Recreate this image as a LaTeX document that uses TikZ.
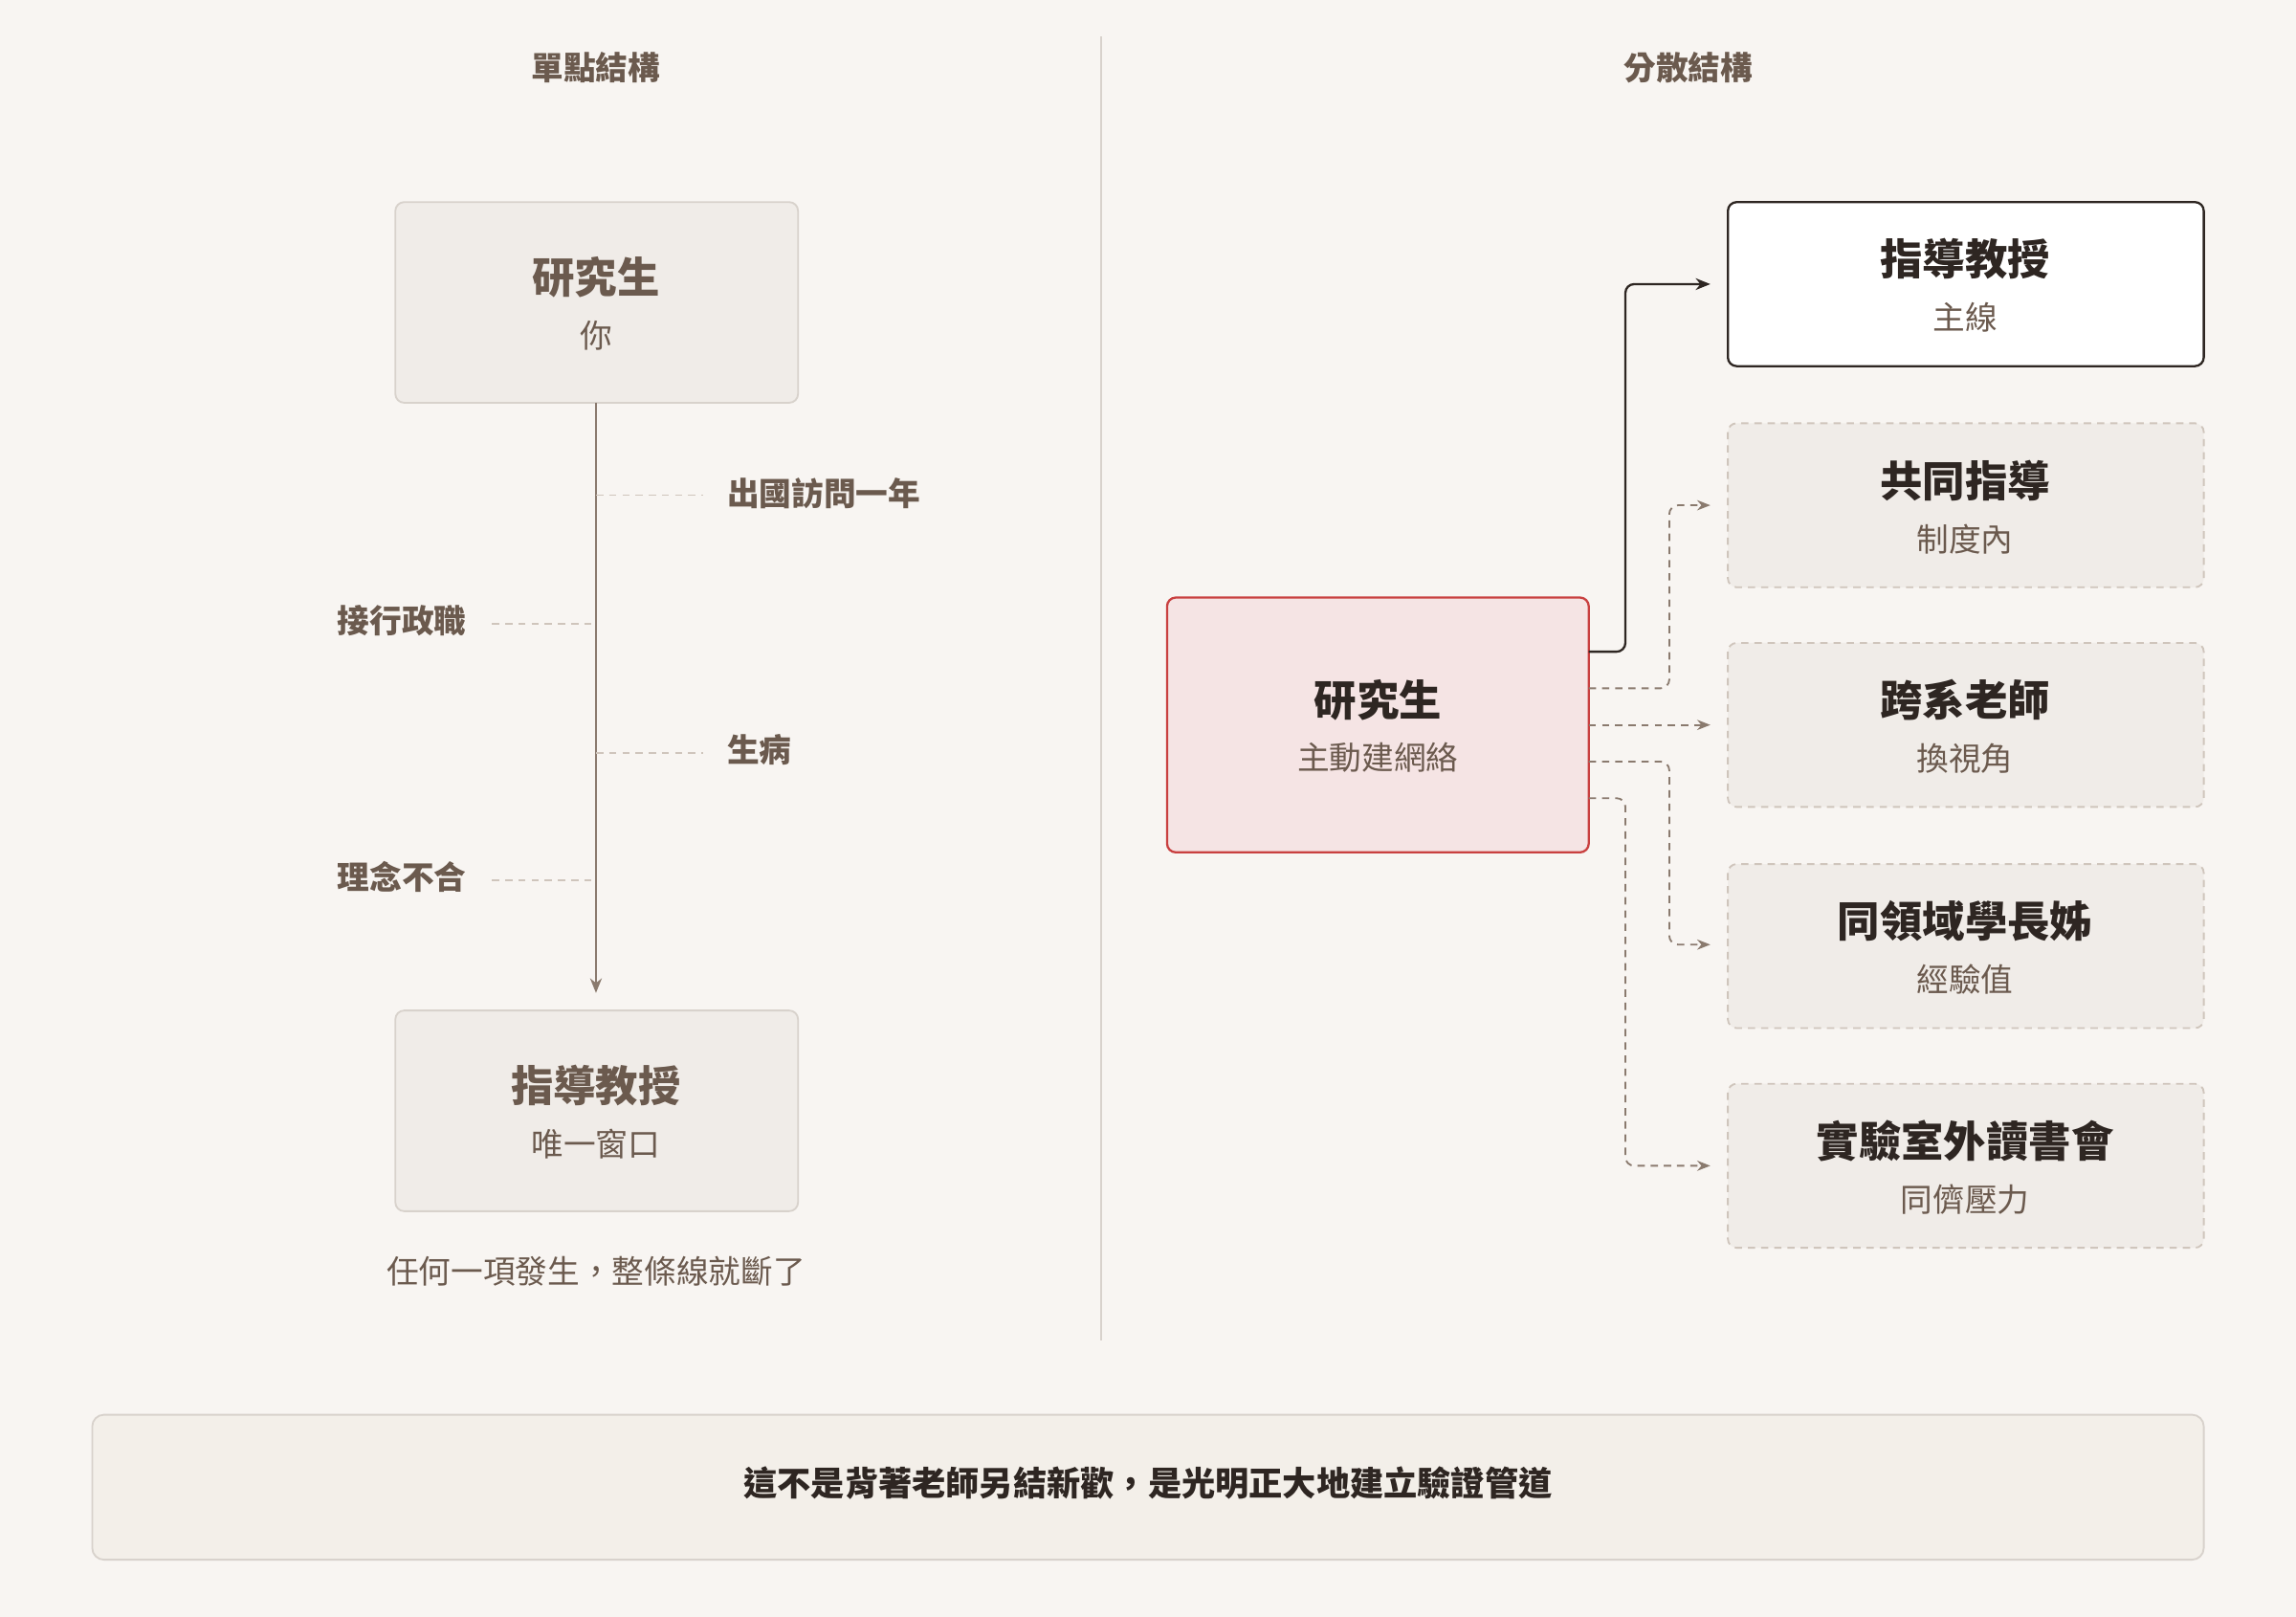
\documentclass[tikz,border=0pt]{standalone}
\usepackage{fontspec}
\setmainfont{Noto Sans CJK TC}
\usetikzlibrary{arrows.meta}
\definecolor{bg}{HTML}{F8F5F2}
\definecolor{brn}{HTML}{6B5A4E}
\definecolor{dk}{HTML}{2E2622}
\definecolor{gbox}{HTML}{F0ECE8}
\definecolor{gbd}{HTML}{D8D2CC}
\definecolor{dsh}{HTML}{CFC5BC}
\definecolor{lnk}{HTML}{8A7A6E}
\definecolor{rfill}{HTML}{F5E4E4}
\definecolor{rbd}{HTML}{C94040}
\definecolor{ban}{HTML}{F3EFE9}
\tikzset{
 ttl/.style={font=\fontsize{22}{24}\selectfont\bfseries,text=brn},
 lbox/.style={draw=gbd,fill=gbox,rounded corners=6pt,line width=1.2pt},
 rbox/.style={draw=dsh,fill=gbox,rounded corners=6pt,dashed,line width=1.2pt,dash pattern=on 5pt off 4pt},
 big/.style={font=\fontsize{29}{31}\selectfont\bfseries},
 sub/.style={font=\fontsize{22}{24}\selectfont,text=brn},
 lbl/.style={font=\fontsize{22}{24}\selectfont\bfseries,text=brn},
 br/.style={draw=dsh,dashed,line width=1pt,dash pattern=on 5pt off 4pt},
 dl/.style={draw=lnk,line width=1.2pt,dashed,dash pattern=on 5pt off 4pt,rounded corners=6pt,-{Stealth[length=9pt,width=7pt]}},
}
\begin{document}
\begin{tikzpicture}[x=1pt,y=-1pt]
\fill[bg] (0,0) rectangle (1568,1104);
\useasboundingbox (0,0) rectangle (1568,1104);
\node[ttl] (t1) at (407,46) {單點結構};
\node[ttl] (t2) at (1153,46) {分散結構};
\draw[gbd,line width=1.2pt] (752,25) -- (752,915);
% left
\draw[lbox] (270,138) rectangle (545,275);
\node[big,text=brn] (s1) at (407,189) {研究生};
\node[sub] (s1b) at (407,229) {你};
\draw[lbox] (270,690) rectangle (545,827);
\node[big,text=brn] (p1) at (407,741) {指導教授};
\node[sub] (p1b) at (407,781) {唯一窗口};
\coordinate (a0) at (407,275); \coordinate (a1) at (407,678);
\draw[lnk,line width=1.3pt,-{Stealth[length=10pt,width=8pt]}] (a0) -- (a1);
\node[lbl,anchor=west] (e1) at (493,337) {出國訪問一年};
\node[lbl,anchor=east] (e2) at (322,424) {接行政職};
\node[lbl,anchor=west] (e3) at (493,512) {生病};
\node[lbl,anchor=east] (e4) at (322,599) {理念不合};
\draw[br] (407,338) -- (480,338);
\draw[br] (336,426) -- (407,426);
\draw[br] (407,514) -- (480,514);
\draw[br] (336,601) -- (407,601);
\node[sub] (cap) at (407,868) {任何一項發生，整條線就斷了};
% right
\draw[draw=rbd,fill=rfill,rounded corners=6pt,line width=1.5pt] (797,408) rectangle (1085,582);
\node[big,text=dk] (c) at (941,478) {研究生};
\node[sub] (cb) at (941,517) {主動建網絡};
\draw[fill=white,draw=dk,rounded corners=6pt,line width=1.5pt] (1180,138) rectangle (1505,250);
\node[big,text=dk] (r1) at (1342,177) {指導教授};
\node[sub] at (1342,217) {主線};
\foreach \y/\a/\b in {289/共同指導/制度內,439/跨系老師/換視角,590/同領域學長姊/經驗值,740/實驗室外讀書會/同儕壓力}{
 \draw[rbox] (1180,\y) rectangle (1505,\y+112);
 \node[big,text=dk] at (1342,\y+39) {\a};
 \node[sub] at (1342,\y+79) {\b};
}
\draw[dk,line width=1.5pt,rounded corners=6pt,-{Stealth[length=10pt,width=8pt]}] (1085,445) -- (1110,445) -- (1110,194) -- (1168,194);
\draw[dl] (1085,470) -- (1140,470) -- (1140,345) -- (1168,345);
\draw[dl] (1085,495) -- (1168,495);
\draw[dl] (1085,520) -- (1140,520) -- (1140,645) -- (1168,645);
\draw[dl] (1085,545) -- (1110,545) -- (1110,796) -- (1168,796);
% banner
\draw[fill=ban,draw=gbd,rounded corners=8pt,line width=1.2pt] (63,966) rectangle (1505,1065);
\node[font=\fontsize{23}{25}\selectfont\bfseries,text=dk] (bt) at (784,1013) {這不是背著老師另結新歡，是光明正大地建立驗證管道};
\end{tikzpicture}
\end{document}
